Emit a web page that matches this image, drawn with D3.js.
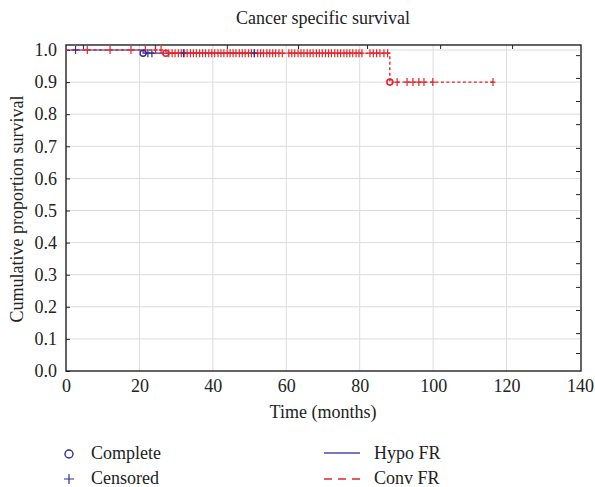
<!DOCTYPE html>
<html><head><meta charset="utf-8">
<script src="https://cdn.jsdelivr.net/npm/d3@7"></script>
<style>body{margin:0;background:#fff}svg{display:block}svg text{font-family:"Liberation Serif","Times New Roman",serif !important}</style>
</head><body>
<script>
// ---- data ----
const xTicks = [0,20,40,60,80,100,120,140];
const yTicks = [0.0,0.1,0.2,0.3,0.4,0.5,0.6,0.7,0.8,0.9,1.0];
const topTicks = [4.6,24.2,43.8,63.2,82.0,101.9,121.5];
const rightTicks = [0.984,0.913,0.841,0.769,0.695,0.623,0.551,0.477,0.405,0.336,0.262,0.190,0.118,0.056];
// step curves: [time, survival]
const hypoSteps = [[0,1.0],[21.0,1.0],[21.0,0.990],[51.5,0.990]];
const convSteps = [[0,1.0],[27.2,1.0],[27.2,0.990],[88.2,0.990],[88.2,0.900],[116.3,0.900]];
const hypoEvents = [[21.0,0.990]];
const convEvents = [[27.2,0.990],[88.2,0.900]];
const hypoCensored = [2.6,22.3,23.4,32.0,51.3];
const convCensored = [5.8,12.0,17.7,21.6,24.4,25.9,
 28.0,28.9,29.7,30.6,31.4,32.2,33.0,33.9,34.7,35.5,36.4,37.2,38.0,38.9,39.7,40.5,41.4,42.2,43.0,43.9,44.7,45.5,46.3,47.2,48.0,48.8,49.7,50.5,51.3,52.2,53.0,53.8,54.7,55.5,56.3,57.1,58.0,58.9,
 60.7,61.5,62.3,63.2,64.0,64.8,65.7,66.5,67.3,68.2,69.0,69.8,70.7,71.5,72.3,73.2,74.0,74.8,75.7,76.5,77.3,78.1,79.0,79.8,80.6,
 82.8,83.7,84.6,85.5,86.6,87.6];
const convCensoredLow = [90.2,92.9,94.5,96.1,97.5,99.9,116.3];

const W=595,H=487;
const FONT="Liberation Serif, Times New Roman, serif";
const svg=d3.select("body").append("svg").attr("width",W).attr("height",H).attr("font-family",FONT);
const x=d3.scaleLinear([0,140],[66,580]);
const y=d3.scaleLinear([0,1],[371,50]);
const yTop=1.0156;
const red="#e3262b", blue="#2e2e96";

// grid
svg.append("g").selectAll("line.v").data(xTicks.slice(1,-1)).join("line")
 .attr("x1",d=>x(d)).attr("x2",d=>x(d)).attr("y1",y(yTop)).attr("y2",y(0))
 .attr("stroke","#dcdcdc").attr("stroke-width",1);
svg.append("g").selectAll("line.h").data(yTicks.slice(1)).join("line")
 .attr("x1",x(0)).attr("x2",x(140)).attr("y1",d=>y(d)).attr("y2",d=>y(d))
 .attr("stroke","#dcdcdc").attr("stroke-width",1);

// axes
const fmt=d3.format(".1f");
const gl=svg.append("g").attr("transform",`translate(${x(0)},0)`)
 .call(d3.axisLeft(y).tickValues(yTicks).tickFormat(fmt).tickSize(-4).tickPadding(9));
const gb=svg.append("g").attr("transform",`translate(0,${y(0)})`)
 .call(d3.axisBottom(x).tickValues(xTicks).tickSize(0).tickPadding(6));
const gt=svg.append("g").attr("transform",`translate(0,${y(yTop)})`)
 .call(d3.axisTop(x).tickValues(topTicks).tickSize(-4).tickFormat(""));
const gr=svg.append("g").attr("transform",`translate(${x(140)},0)`)
 .call(d3.axisRight(y).tickValues(rightTicks).tickSize(-4).tickFormat(""));
[gl,gb,gt,gr].forEach(g=>{g.attr("font-family",FONT).attr("font-size",18);
 g.select(".domain").remove();
 g.selectAll(".tick line").attr("stroke","#222").attr("stroke-width",1);
 g.selectAll("text").attr("fill","#222");});
gb.selectAll("text").attr("dy","0.85em");

// frame
svg.append("rect").attr("x",x(0)).attr("y",y(yTop)).attr("width",x(140)-x(0)+1).attr("height",y(0)-y(yTop))
 .attr("fill","none").attr("stroke","#222").attr("stroke-width",1.4);

// curves
const line=d3.line().x(d=>x(d[0])).y(d=>y(d[1]));
svg.append("path").attr("d",line(hypoSteps)).attr("fill","none").attr("stroke",blue).attr("stroke-width",1.2);
svg.append("path").attr("d",line(convSteps)).attr("fill","none").attr("stroke",red).attr("stroke-width",1.4).attr("stroke-dasharray","3,2.5");

function plus(g,data,yv,col){
 g.selectAll(null).data(data).join("path")
  .attr("d",d=>`M${x(d)},${y(yv)-4}V${y(yv)+4}M${x(d)-2.5},${y(yv)}H${x(d)+2.5}`)
  .attr("stroke",col).attr("stroke-width",1.2).attr("fill","none");
}
const marks=svg.append("g");
plus(marks,convCensored.filter(d=>d<27.2),1.0,red);
plus(marks,convCensored.filter(d=>d>=27.2),0.990,red);
plus(marks,convCensoredLow,0.900,red);
plus(marks,hypoCensored.filter(d=>d<21),1.0,blue);
plus(marks,hypoCensored.filter(d=>d>=21),0.990,blue);

svg.append("g").selectAll("circle").data(hypoEvents).join("circle")
 .attr("cx",d=>x(d[0])).attr("cy",d=>y(d[1])).attr("r",3).attr("fill","none").attr("stroke",blue).attr("stroke-width",1.4);
svg.append("g").selectAll("circle").data(convEvents).join("circle")
 .attr("cx",d=>x(d[0])).attr("cy",d=>y(d[1])).attr("r",3).attr("fill","none").attr("stroke",red).attr("stroke-width",1.6);

// titles
svg.append("text").attr("x",323).attr("y",24).attr("text-anchor","middle").attr("font-size",18).attr("fill","#222").text("Cancer specific survival");
svg.append("text").attr("x",323).attr("y",418).attr("text-anchor","middle").attr("font-size",18).attr("fill","#222").text("Time (months)");
svg.append("text").attr("transform","translate(23,209) rotate(-90)").attr("text-anchor","middle").attr("font-size",18).attr("fill","#222").text("Cumulative proportion survival");

// legend
const lg=svg.append("g");
lg.append("circle").attr("cx",69).attr("cy",454).attr("r",4).attr("fill","none").attr("stroke",blue).attr("stroke-width",1.4);
lg.append("path").attr("d","M69,474V484M64,479H74").attr("stroke",blue).attr("stroke-width",1.2);
lg.append("text").attr("x",91).attr("y",459).attr("font-size",18).attr("fill","#222").text("Complete");
lg.append("text").attr("x",91).attr("y",484).attr("font-size",18).attr("fill","#222").text("Censored");
lg.append("line").attr("x1",324).attr("x2",360).attr("y1",453).attr("y2",453).attr("stroke","#4a4aa8").attr("stroke-width",1.3);
lg.append("line").attr("x1",324).attr("x2",360).attr("y1",479).attr("y2",479).attr("stroke",red).attr("stroke-width",1.3).attr("stroke-dasharray","8,6");
lg.append("text").attr("x",374).attr("y",459).attr("font-size",18).attr("fill","#222").text("Hypo FR");
lg.append("text").attr("x",374).attr("y",484).attr("font-size",18).attr("fill","#222").text("Conv FR");
</script>
</body></html>
